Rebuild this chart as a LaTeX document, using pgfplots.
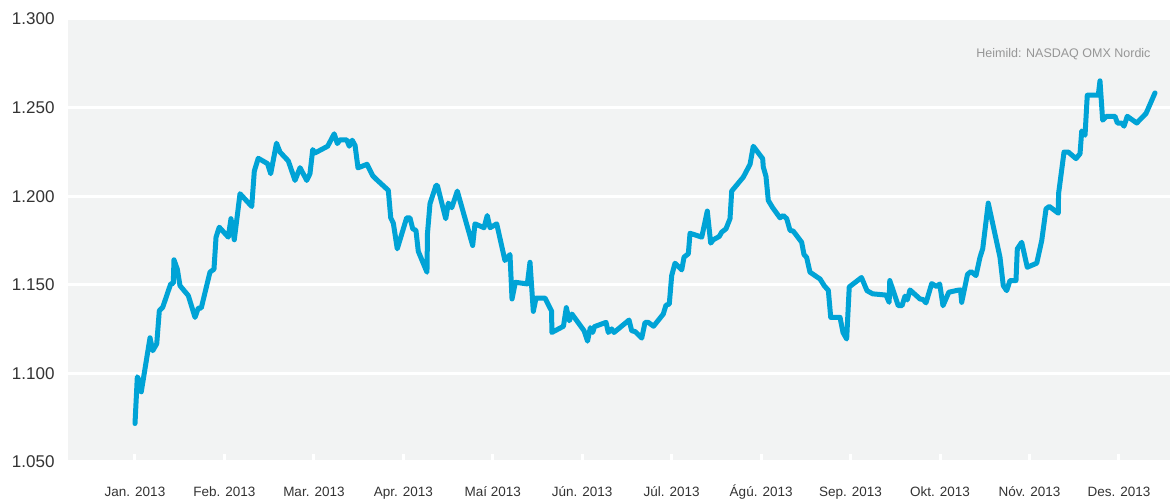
\documentclass[border=0pt]{standalone}
\usepackage{fontspec}
\setmainfont{Liberation Sans}
\usepackage{pgfplots}
\pgfplotsset{compat=1.18}
\usepackage{pgfplotstable}

\definecolor{bgcol}{RGB}{242,243,243}
\definecolor{linecol}{RGB}{0,163,214}
\definecolor{labcol}{RGB}{51,51,51}
\definecolor{notecol}{RGB}{150,150,150}

% x: months since start of Jan. 2013 (tick = month), y: index value
\pgfplotstableread{
x y
0.000 1.0717
0.026 1.0981
0.048 1.0958
0.070 1.0896
0.168 1.1201
0.198 1.1128
0.243 1.1167
0.272 1.1354
0.310 1.1373
0.399 1.1505
0.428 1.1508
0.436 1.1641
0.473 1.1588
0.503 1.1495
0.596 1.1439
0.671 1.1316
0.708 1.1369
0.741 1.1369
0.838 1.1571
0.883 1.1588
0.906 1.1769
0.942 1.1825
1.043 1.1769
1.073 1.1873
1.110 1.1754
1.174 1.2014
1.305 1.1942
1.334 1.2142
1.378 1.2214
1.481 1.2184
1.517 1.2127
1.582 1.2299
1.621 1.2249
1.714 1.2199
1.789 1.2089
1.845 1.2161
1.920 1.2089
1.956 1.2127
1.987 1.2263
2.012 1.2244
2.068 1.2259
2.154 1.2282
2.227 1.2352
2.262 1.2297
2.292 1.2318
2.367 1.2318
2.395 1.2282
2.428 1.2316
2.460 1.2287
2.493 1.2160
2.594 1.2180
2.657 1.2116
2.694 1.2097
2.832 1.2033
2.859 1.1878
2.888 1.1848
2.932 1.1703
3.037 1.1878
3.074 1.1878
3.105 1.1816
3.141 1.1807
3.167 1.1689
3.264 1.1571
3.270 1.1791
3.298 1.1958
3.365 1.2061
3.380 1.2061
3.474 1.1873
3.503 1.1961
3.541 1.1935
3.603 1.2029
3.775 1.1722
3.801 1.1844
3.902 1.1822
3.938 1.1891
3.969 1.1822
4.044 1.1844
4.136 1.1637
4.192 1.1671
4.215 1.1420
4.252 1.1514
4.386 1.1505
4.416 1.1627
4.453 1.1350
4.483 1.1425
4.584 1.1425
4.658 1.1351
4.660 1.1231
4.790 1.1266
4.822 1.1371
4.855 1.1297
4.885 1.1335
5.020 1.1241
5.059 1.1182
5.090 1.1258
5.117 1.1231
5.137 1.1264
5.266 1.1288
5.291 1.1231
5.329 1.1251
5.355 1.1231
5.523 1.1301
5.553 1.1241
5.595 1.1235
5.665 1.1199
5.702 1.1288
5.738 1.1288
5.797 1.1266
5.906 1.1335
5.936 1.1385
5.973 1.1391
6.000 1.1552
6.037 1.1622
6.112 1.1584
6.138 1.1656
6.186 1.1675
6.205 1.1791
6.336 1.1769
6.398 1.1916
6.436 1.1735
6.465 1.1754
6.532 1.1773
6.559 1.1797
6.607 1.1816
6.652 1.1873
6.671 1.2029
6.801 1.2108
6.876 1.2180
6.912 1.2282
7.017 1.2212
7.024 1.2165
7.054 1.2112
7.080 1.1976
7.129 1.1935
7.211 1.1878
7.248 1.1891
7.286 1.1873
7.323 1.1807
7.359 1.1803
7.453 1.1740
7.479 1.1671
7.509 1.1654
7.546 1.1571
7.658 1.1533
7.708 1.1493
7.751 1.1469
7.778 1.1316
7.882 1.1316
7.915 1.1231
7.956 1.1194
7.985 1.1488
8.122 1.1541
8.183 1.1467
8.247 1.1449
8.396 1.1442
8.431 1.1401
8.438 1.1524
8.533 1.1382
8.575 1.1382
8.608 1.1436
8.634 1.1415
8.664 1.1471
8.776 1.1420
8.809 1.1417
8.843 1.1398
8.907 1.1507
8.963 1.1490
8.996 1.1505
9.033 1.1382
9.098 1.1458
9.195 1.1469
9.229 1.1471
9.242 1.1401
9.307 1.1559
9.346 1.1575
9.402 1.1552
9.447 1.1656
9.477 1.1703
9.539 1.1961
9.670 1.1656
9.707 1.1495
9.745 1.1467
9.782 1.1524
9.849 1.1524
9.864 1.1703
9.913 1.1740
9.975 1.1599
10.081 1.1622
10.137 1.1750
10.185 1.1929
10.222 1.1942
10.322 1.1904
10.325 1.2014
10.386 1.2249
10.434 1.2249
10.520 1.2212
10.565 1.2240
10.584 1.2368
10.621 1.2344
10.646 1.2570
10.769 1.2570
10.788 1.2651
10.818 1.2429
10.863 1.2451
10.956 1.2451
10.982 1.2413
11.031 1.2413
11.057 1.2395
11.093 1.2451
11.199 1.2413
11.303 1.2467
11.403 1.2583
}\omxdata

\begin{document}
\begin{tikzpicture}
\path[use as bounding box] (0,0) rectangle (1170pt,500pt);
\begin{axis}[
  at={(68pt,38pt)}, anchor=south west,
  scale only axis, width=1102pt, height=443pt,
  xmin=-0.749, xmax=11.571,
  ymin=1.05, ymax=1.30,
  axis background/.style={fill=bgcol},
  axis line style={draw=none},
  xtick={0,...,11},
  xticklabels={Jan. 2013, Feb. 2013, Mar. 2013, Apr. 2013, Maí 2013, Jún. 2013,
    Júl. 2013, Ágú. 2013, Sep. 2013, Okt. 2013, Nóv. 2013, Des. 2013},
  ytick={1.05,1.10,...,1.31},
  xtick pos=bottom, ytick pos=left,
  tick align=inside,
  major tick length=8pt,
  xtick style={white, line width=3pt},
  ytick style={draw=none},
  ymajorgrids,
  grid style={white, line width=3pt},
  yticklabel style={
    /pgf/number format/.cd, fixed, fixed zerofill, precision=3, assume math mode=true,
    /tikz/.cd, font=\fontsize{17}{20}\selectfont, text=labcol, xshift=-10pt},
  xticklabel style={font=\fontsize{13.5}{16}\selectfont, text=labcol,
    anchor=base, yshift=-35pt},
]
\addplot[linecol, line width=5pt, line join=round, line cap=round] table[x=x, y=y] {\omxdata};
\node[anchor=east, text=notecol, font=\fontsize{12.5}{15}\selectfont]
  at (rel axis cs:0.9855,0.921) {Heimild: NASDAQ OMX Nordic};
\end{axis}
\end{tikzpicture}
\end{document}
